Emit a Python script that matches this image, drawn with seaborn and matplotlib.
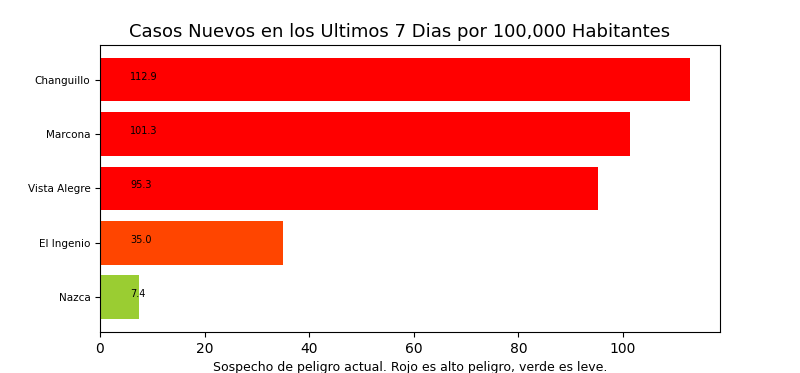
import matplotlib
matplotlib.use("Agg")
import matplotlib.pyplot as plt
import seaborn as sns
import pandas as pd

districts = ["Changuillo", "Marcona", "Vista Alegre", "El Ingenio", "Nazca"]
values = [112.9, 101.3, 95.3, 35.0, 7.4]
colors = ["red", "red", "red", "orangered", "yellowgreen"]

df = pd.DataFrame({"district": districts, "value": values})

fig, ax = plt.subplots(figsize=(8, 3.73), dpi=100)
sns.barplot(data=df, x="value", y="district", hue="district",
            palette=dict(zip(districts, colors)), legend=False,
            width=0.8, saturation=1, ax=ax, orient="h")
for i, v in enumerate(values):
    ax.text(5.75, i, f"{v:.1f}", fontsize=7)
ax.set_ylim(4.64, -0.64)
ax.set_xlim(0, 112.9 * 1.05)
ax.set_ylabel("")
ax.set_xlabel("Sospecho de peligro actual. Rojo es alto peligro, verde es leve.", fontsize=9)
ax.tick_params(axis="y", labelsize=7.5)
fig.subplots_adjust(left=0.125, right=0.9, top=0.88, bottom=0.11)
fig.suptitle("Casos Nuevos en los Ultimos 7 Dias por 100,000 Habitantes",
             fontsize=13, x=0.5, y=1 - 36.7 / 373, va="baseline")
fig.savefig("out.png", dpi=100)
